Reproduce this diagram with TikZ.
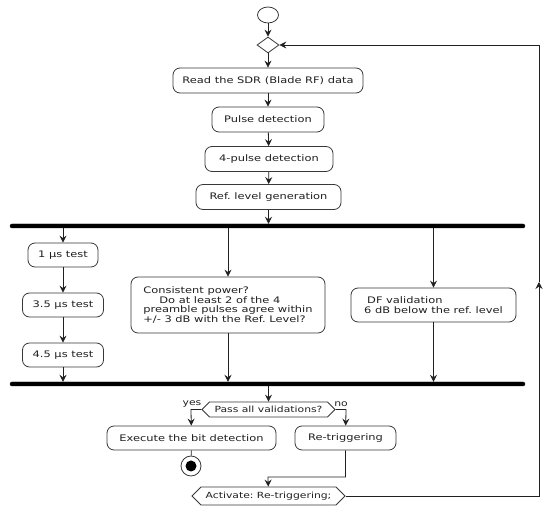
\documentclass[tikz,border=0pt]{standalone}
\usepackage{fontspec}
\setmainfont{DejaVu Sans}[FakeStretch=1.27]
\usetikzlibrary{arrows.meta,shapes.symbols,shapes.geometric}
\definecolor{ink}{HTML}{202020}
\definecolor{edge}{HTML}{383838}
\frenchspacing
\begin{document}
\begin{tikzpicture}[x=1pt,y=-1pt,
  every node/.style={font=\fontsize{9}{9.8}\selectfont, text=ink},
  act/.style={draw=edge, fill=white, rounded corners=7pt, minimum height=25pt, inner sep=0pt, line width=0.8pt},
  hexa/.style={signal, signal to=west and east, signal pointer angle=90, draw=edge, fill=white, inner ysep=0pt, inner xsep=2pt, line width=0.8pt, font=\fontsize{8.5}{9}\selectfont},
  bar/.style={fill=black, draw=black, rounded corners=2pt, minimum height=4pt, inner sep=0pt},
  flow/.style={-{Stealth[length=7pt,width=7pt,inset=2.5pt]}, line width=0.8pt, draw=ink},
  plain/.style={line width=0.8pt, draw=ink},
  lbl/.style={font=\fontsize{8.5}{9}\selectfont, inner sep=0pt}
]
\useasboundingbox (0,0) rectangle (550,513);

\node[ellipse, draw=edge, line width=0.8pt, minimum width=21pt, minimum height=16pt, inner sep=0pt] (start) at (268,15) {};
\node[diamond, draw=edge, line width=0.8pt, minimum width=22pt, minimum height=16pt, inner sep=0pt, aspect=1.4] (dia) at (268,45) {};
\node[act, minimum width=190pt] (read) at (268,80.5) {Read the SDR (Blade RF) data};
\node[act, minimum width=112pt] (pulse) at (268,119.5) {Pulse detection};
\node[act, minimum width=128pt] (four) at (269,159) {4-pulse detection};
\node[act, minimum width=145pt] (ref) at (268.5,197) {Ref. level generation};

\node[bar, minimum width=515pt] (fork1) at (267.5,226) {};

\node[act, minimum width=70pt, minimum height=24pt] (t1) at (63,255) {1 µs test};
\node[act, minimum width=81pt, minimum height=24pt] (t2) at (63,305) {3.5 µs test};
\node[act, minimum width=81pt, minimum height=24pt] (t3) at (63,355) {4.5 µs test};

\node[act, minimum width=194pt, minimum height=56pt, align=left] (cons) at (228,305)
  {Consistent power?\\\hspace*{16pt}Do at least 2 of the 4\\preamble pulses agree within\\+/- 3 dB with the Ref. Level?};
\node[act, minimum width=165pt, minimum height=34pt, align=left] (df) at (433.5,305)
  {\hspace*{3pt}DF validation\\6 dB below the ref. level};

\node[bar, minimum width=515pt] (fork2) at (267.5,384) {};

\node[hexa, minimum width=133pt, minimum height=15pt] (pass) at (268.5,409.5) {Pass all validations?};
\node[act, minimum width=169pt, minimum height=24pt] (exec) at (191.5,438) {Execute the bit detection};
\node[act, minimum width=101pt, minimum height=24pt] (retrig) at (345.5,438) {Re-triggering};
\node[circle, draw=edge, line width=0.8pt, minimum size=20pt, inner sep=0pt] (end) at (191,466) {};
\fill[black] (end.center) circle (5.5pt);
\node[hexa, minimum width=153pt, minimum height=18pt] (actv) at (268.5,496) {Activate: Re-triggering;};

\node[lbl] (yes) at (192,404) {yes};
\node[lbl] (no) at (341,404) {no};

\coordinate (loopB) at (539,496);
\coordinate (loopM) at (539,282);
\coordinate (loopT) at (539,45);
\coordinate (yesC) at (191,409.5);
\coordinate (noC) at (346,409.5);
\coordinate (rtA) at (345.5,477);
\coordinate (rtB) at (268,477);

\draw[flow] (start) -- (dia);
\draw[flow] (dia) -- (read);
\draw[flow] (read) -- (pulse);
\draw[flow] (pulse) -- (four);
\draw[flow] (four) -- (ref);
\draw[flow] (ref) -- (ref |- fork1.north);

\draw[flow] (fork1.south -| t1) -- (t1);
\draw[flow] (t1) -- (t2);
\draw[flow] (t2) -- (t3);
\draw[flow] (t3) -- (t3 |- fork2.north);
\draw[flow] (fork1.south -| cons) -- (cons);
\draw[flow] (cons) -- (cons |- fork2.north);
\draw[flow] (fork1.south -| df) -- (df);
\draw[flow] (df) -- (df |- fork2.north);

\draw[flow] (fork2.south -| pass) -- (pass);
\draw[flow] (pass.west) -- (yesC) -- (exec);
\draw[flow] (pass.east) -- (noC) -- (retrig);
\draw[plain] (exec) -- (end);
\draw[flow] (retrig) -- (rtA) -- (rtB) -- (actv);
\draw[flow] (actv.east) -- (loopB) -- (loopM);
\draw[flow] (loopM) -- (loopT) -- (dia.east);
\end{tikzpicture}
\end{document}
